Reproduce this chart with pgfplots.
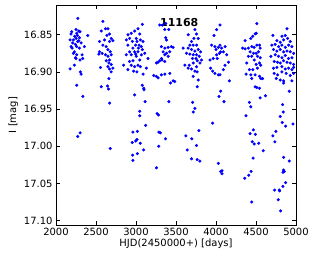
\documentclass[border=0pt]{standalone}
\usepackage{pgfplots}
\pgfplotsset{compat=1.18}
\usepackage{fontspec}
\setmainfont{DejaVu Sans}
\begin{document}
\begin{tikzpicture}
\begin{axis}[
  scale only axis, width=240bp, height=220bp,
  xmin=2000, xmax=5000, ymin=16.81, ymax=17.106,
  y dir=reverse,
  xtick={2000,2500,...,5000},
  ytick={16.85,16.90,16.95,17.00,17.05,17.10},
  yticklabel style={/pgf/number format/fixed,/pgf/number format/fixed zerofill,/pgf/number format/precision=2},
  xticklabel style={/pgf/number format/set thousands separator={}},
  scaled ticks=false,
  /pgf/number format/assume math mode=true,
  tick align=inside, tick pos=both,
  major tick length=4bp,
  tick style={black, line width=0.6pt},
  axis line style={line width=0.8pt},
  ticklabel style={font=\fontsize{10}{11}\selectfont},
  label style={font=\fontsize{10}{11}\selectfont},
  xlabel={HJD(2450000+) [days]},
  ylabel={I [mag]},
  xlabel style={yshift=4bp},
  ylabel style={yshift=-1bp},
]
\addplot[only marks, mark=*, mark size=1.35pt, color=blue] table {
x y
2272 16.828
2197 16.846
2188 16.849
2251 16.843
2285 16.845
2259 16.848
2301 16.846
2234 16.852
2268 16.851
2293 16.854
2176 16.857
2218 16.857
2251 16.855
2285 16.858
2397 16.851
2209 16.861
2243 16.863
2314 16.861
2356 16.866
2259 16.866
2293 16.868
2201 16.868
2230 16.873
2259 16.877
2243 16.881
2326 16.877
2335 16.882
2301 16.884
2251 16.882
2188 16.866
2230 16.891
2176 16.896
2305 16.900
2314 16.903
2259 16.918
2272 16.859
2218 16.875
2335 16.933
2301 16.982
2272 16.987
2586 16.832
2619 16.842
2649 16.842
2565 16.845
2669 16.849
2636 16.851
2690 16.855
2544 16.859
2607 16.857
2669 16.859
2711 16.858
2586 16.864
2628 16.866
2544 16.873
2577 16.875
2536 16.876
2649 16.870
2678 16.873
2619 16.877
2649 16.879
2690 16.877
2669 16.884
2628 16.885
2661 16.888
2690 16.890
2649 16.893
2669 16.896
2556 16.894
2711 16.895
2690 16.900
2661 16.909
2565 16.920
2644 16.919
2657 16.923
2669 16.942
2678 17.003
3079 16.836
3025 16.842
2983 16.845
2941 16.848
2899 16.850
2920 16.855
2879 16.857
3046 16.849
3004 16.855
3012 16.859
3054 16.857
3088 16.859
2996 16.864
3038 16.864
3067 16.866
2962 16.868
2920 16.873
2879 16.877
2941 16.877
2983 16.873
3025 16.873
3079 16.870
3109 16.875
3150 16.882
3004 16.879
3046 16.884
2962 16.885
2920 16.886
2845 16.891
2941 16.891
2983 16.893
3025 16.891
3054 16.893
3130 16.895
2971 16.899
3012 16.900
2899 16.897
3088 16.903
2954 16.859
3029 16.868
2996 16.876
3067 16.877
2899 16.864
2983 16.931
3100 16.924
3113 16.940
3046 16.953
3046 16.959
3121 16.972
2962 16.981
3017 16.980
2954 16.995
2996 16.993
3013 16.991
3054 16.996
3096 17.005
2958 17.012
3017 17.010
2962 17.019
3079 16.918
3096 16.922
3297 16.837
3330 16.837
3372 16.835
3360 16.843
3410 16.843
3372 16.854
3381 16.857
3318 16.866
3360 16.868
3402 16.867
3443 16.866
3464 16.867
3339 16.873
3381 16.875
3422 16.873
3360 16.877
3402 16.879
3318 16.882
3297 16.885
3360 16.886
3255 16.888
3276 16.887
3326 16.884
3222 16.905
3255 16.906
3276 16.908
3318 16.904
3360 16.903
3422 16.902
3431 16.915
3464 16.912
3485 16.913
3410 16.940
3264 16.956
3280 16.958
3285 16.981
3305 16.982
3368 16.990
3285 17.000
3255 17.029
3736 16.843
3757 16.849
3652 16.850
3778 16.855
3724 16.855
3694 16.859
3673 16.864
3715 16.864
3757 16.864
3590 16.868
3652 16.868
3694 16.870
3736 16.872
3778 16.870
3807 16.873
3632 16.875
3673 16.876
3715 16.877
3757 16.877
3791 16.879
3707 16.882
3749 16.882
3765 16.885
3820 16.884
3799 16.888
3611 16.891
3665 16.891
3715 16.888
3757 16.893
3694 16.896
3652 16.895
3736 16.899
3765 16.900
3715 16.906
3778 16.911
3765 16.920
3707 16.941
3736 16.949
3715 16.954
3786 16.979
3623 16.986
3698 16.990
3757 16.999
3640 17.005
3694 17.017
3765 17.018
3799 17.020
4050 16.837
4008 16.843
3975 16.851
3945 16.864
3987 16.866
4029 16.867
4050 16.864
4071 16.868
4092 16.873
4042 16.875
4008 16.877
3966 16.882
3925 16.884
4134 16.877
4155 16.887
3933 16.895
3958 16.899
3987 16.902
4029 16.904
4050 16.904
4092 16.897
4113 16.891
4167 16.912
4000 16.870
4058 16.873
4113 16.866
4016 16.882
4058 16.926
4037 16.933
4100 16.940
3958 16.969
4029 17.023
4058 17.034
4075 17.033
4075 17.037
4510 16.835
4502 16.848
4489 16.849
4460 16.852
4435 16.855
4364 16.858
4334 16.868
4364 16.869
4405 16.868
4447 16.866
4477 16.867
4510 16.864
4544 16.864
4552 16.868
4426 16.873
4468 16.875
4502 16.875
4531 16.873
4405 16.879
4447 16.879
4518 16.879
4552 16.881
4477 16.884
4385 16.888
4502 16.890
4544 16.888
4560 16.891
4418 16.897
4460 16.897
4518 16.895
4376 16.903
4435 16.904
4489 16.904
4447 16.909
4544 16.906
4560 16.909
4489 16.920
4510 16.921
4544 16.922
4582 16.909
4552 16.935
4619 16.932
4418 16.941
4435 16.947
4376 16.959
4426 16.983
4468 16.978
4493 16.984
4452 16.994
4477 16.997
4535 16.996
4590 17.006
4464 17.016
4439 17.034
4410 17.039
4360 17.043
4447 17.075
4887 16.842
4711 16.851
4824 16.852
4866 16.851
4895 16.855
4845 16.857
4761 16.858
4803 16.860
4928 16.859
4698 16.864
4740 16.863
4782 16.866
4824 16.864
4866 16.867
4907 16.864
4949 16.866
4719 16.870
4761 16.872
4803 16.870
4845 16.873
4887 16.872
4928 16.873
4970 16.875
4686 16.879
4740 16.877
4782 16.879
4824 16.881
4866 16.878
4907 16.882
4949 16.881
4728 16.886
4770 16.887
4803 16.888
4845 16.885
4887 16.887
4928 16.888
4970 16.890
4719 16.895
4761 16.894
4824 16.893
4866 16.896
4907 16.895
4949 16.897
4970 16.894
4728 16.902
4770 16.904
4824 16.900
4878 16.902
4928 16.905
4970 16.902
4753 16.909
4803 16.911
4845 16.912
4949 16.912
4845 16.915
4916 16.926
4832 16.944
4841 16.954
4803 16.960
4828 16.968
4870 16.973
4962 16.970
4749 16.980
4711 16.986
4736 16.994
4845 17.015
4916 17.020
4845 17.032
4853 17.034
4837 17.035
4870 17.049
4837 17.054
4732 17.059
4791 17.059
4795 17.060
4778 17.072
4807 17.087
};
\node[font=\bfseries\fontsize{11}{12}\selectfont] at (axis cs:3540,16.833) {11168};
\end{axis}
\pgfresetboundingbox
\path (current axis.south west) ++(-56bp,-34bp) coordinate (bl);
\path (current axis.north east) ++(20bp,5bp) coordinate (tr);
\path[use as bounding box] (bl) rectangle (tr);
\end{tikzpicture}
\end{document}
